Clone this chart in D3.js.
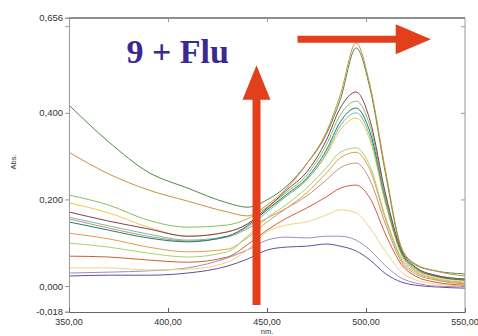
<!DOCTYPE html>
<html>
<head>
<meta charset="utf-8" />
<title>9 + Flu</title>
<script src="https://cdn.jsdelivr.net/npm/d3@7"></script>
<style>
  body { margin: 0; background: #fff; }
  svg text { font-family: "Liberation Sans", Arial, sans-serif; fill: #333; }
  svg text.title { font-family: "Liberation Serif", "Times New Roman", serif; font-weight: bold; fill: #3b2890; }
  .spec { fill: none; stroke-width: 1px; }
</style>
</head>
<body>
<div id="chart"></div>
<script>
// wavelengths (nm) where the spectra are sampled
var wavelengths = [350, 370, 390, 410, 430, 440, 450, 460, 470, 480, 487, 495, 502, 510, 518, 525, 535, 550];

// absorbance of each spectrum
var sA = [0.309, 0.259, 0.222, 0.196, 0.171, 0.162, 0.187, 0.226, 0.282, 0.356, 0.441, 0.561, 0.464, 0.263, 0.088, 0.051, 0.035, 0.023];
var sB = [0.418, 0.333, 0.263, 0.226, 0.192, 0.182, 0.199, 0.231, 0.282, 0.351, 0.430, 0.550, 0.457, 0.256, 0.085, 0.049, 0.035, 0.028];
var sC = [0.171, 0.150, 0.132, 0.115, 0.125, 0.143, 0.180, 0.222, 0.263, 0.337, 0.411, 0.448, 0.383, 0.210, 0.081, 0.044, 0.025, 0.016];
var sD = [0.210, 0.187, 0.152, 0.136, 0.141, 0.155, 0.182, 0.217, 0.256, 0.326, 0.395, 0.427, 0.370, 0.203, 0.079, 0.042, 0.025, 0.016];
var sE = [0.148, 0.129, 0.111, 0.102, 0.115, 0.139, 0.176, 0.212, 0.249, 0.314, 0.379, 0.411, 0.356, 0.199, 0.076, 0.042, 0.023, 0.014];
var sF = [0.159, 0.139, 0.120, 0.106, 0.115, 0.136, 0.171, 0.208, 0.245, 0.307, 0.370, 0.400, 0.346, 0.192, 0.074, 0.039, 0.023, 0.014];
var sG = [0.192, 0.169, 0.136, 0.115, 0.125, 0.143, 0.176, 0.208, 0.245, 0.303, 0.360, 0.388, 0.337, 0.187, 0.072, 0.037, 0.021, 0.012];
var sH = [0.099, 0.090, 0.076, 0.067, 0.079, 0.115, 0.157, 0.189, 0.226, 0.273, 0.309, 0.319, 0.277, 0.157, 0.065, 0.035, 0.018, 0.009];
var sI = [0.122, 0.109, 0.090, 0.079, 0.085, 0.111, 0.148, 0.180, 0.215, 0.261, 0.296, 0.309, 0.268, 0.152, 0.060, 0.032, 0.016, 0.007];
var sJ = [0.155, 0.134, 0.115, 0.104, 0.113, 0.132, 0.157, 0.180, 0.208, 0.245, 0.273, 0.284, 0.245, 0.141, 0.055, 0.028, 0.014, 0.005];
var sK = [0.069, 0.067, 0.060, 0.055, 0.067, 0.095, 0.129, 0.157, 0.180, 0.206, 0.226, 0.233, 0.203, 0.118, 0.049, 0.023, 0.009, 0.002];
var sL = [0.042, 0.042, 0.037, 0.039, 0.055, 0.083, 0.125, 0.141, 0.148, 0.164, 0.176, 0.169, 0.134, 0.079, 0.032, 0.014, 0.005, 0.000];
var sM = [0.030, 0.032, 0.035, 0.042, 0.065, 0.083, 0.106, 0.113, 0.111, 0.115, 0.115, 0.106, 0.083, 0.046, 0.018, 0.007, 0.000, -0.002];
var sN = [0.023, 0.025, 0.025, 0.030, 0.046, 0.062, 0.083, 0.090, 0.092, 0.097, 0.092, 0.081, 0.060, 0.028, 0.009, 0.002, -0.002, -0.005];

var spectra = [sN, sM, sL, sK, sJ, sI, sH, sG, sF, sE, sD, sC, sB, sA];
var spectraColors = ["#6a4aa0", "#9c8cc0", "#f0d478", "#d65a34", "#c99080", "#e89a4c", "#a4d46c",
                     "#f2c84a", "#6cc0a8", "#1f7a6a", "#82c25a", "#8b3a55", "#4f8a4a", "#c8923a"];

// axes
var xDomain = [350, 550];
var xTickValues = [350, 400, 450, 500, 550];
var xTickLabels = ["350,00", "400,00", "450,00", "500,00", "550,00"];
var yDomain = [-0.060, 0.619];
var yTickValues = [0, 0.2, 0.4, 0.6];
var yTickLabels = ["0,000", "0,200", "0,400", ""];
var yEndLabels = ["-0,018", "0,656"];

// annotations (data units)
var titleText = "9 + Flu";
var titlePos = [379, 0.515];
var upArrow = { x: 444.7, y0: -0.044, y1: 0.510, head: 0.430 };
var rightArrow = { y: 0.570, x0: 465.4, x1: 532.8, head: 515 };

var width = 478, height = 336;
var mLeft = 69, mRight = 465, mTop = 18, mBottom = 312;

var svg = d3.select("#chart").append("svg")
    .attr("width", width)
    .attr("height", height);

var x = d3.scaleLinear().domain(xDomain).range([mLeft, mRight]);
var y = d3.scaleLinear().domain(yDomain).range([mBottom, mTop]);

// spectra
var line = d3.line()
    .x(function(d, i) { return x(wavelengths[i]); })
    .y(function(d) { return y(d); })
    .curve(d3.curveMonotoneX);

svg.append("g").selectAll("path")
    .data(spectra)
    .enter()
    .append("path")
    .attr("class", "spec")
    .attr("stroke", function(d, i) { return spectraColors[i]; })
    .attr("d", line);

// frame: black top, grey right
svg.append("line").attr("x1", mLeft).attr("x2", mRight).attr("y1", mTop).attr("y2", mTop)
    .attr("stroke", "#222").attr("stroke-width", 1.2);
svg.append("line").attr("x1", mRight).attr("x2", mRight).attr("y1", mTop).attr("y2", mBottom)
    .attr("stroke", "#999");

// left axis
var yAxis = d3.axisLeft(y)
    .tickValues(yTickValues)
    .tickSize(4)
    .tickPadding(2)
    .tickFormat(function(d, i) { return yTickLabels[i]; });
var gy = svg.append("g").attr("transform", "translate(" + mLeft + ",0)").call(yAxis);
gy.select(".domain").attr("stroke", "#999");
gy.selectAll(".tick line").attr("stroke", "#999");
gy.selectAll("text").attr("font-size", "9.5px").attr("fill", "#333");

// end labels of y axis
svg.append("g").selectAll("text")
    .data(yEndLabels)
    .enter()
    .append("text")
    .attr("x", mLeft - 6)
    .attr("y", function(d, i) { return y(yDomain[i]); })
    .attr("dy", "0.32em")
    .attr("text-anchor", "end")
    .attr("font-size", "9.5px")
    .text(function(d) { return d; });
svg.append("g").selectAll("line")
    .data(yDomain)
    .enter()
    .append("line")
    .attr("x1", mLeft - 4).attr("x2", mLeft)
    .attr("y1", function(d) { return y(d); })
    .attr("y2", function(d) { return y(d); })
    .attr("stroke", "#999");

// right inner ticks
var gyr = svg.append("g").attr("transform", "translate(" + mRight + ",0)")
    .call(d3.axisLeft(y).tickValues(yTickValues).tickSize(4).tickFormat(""));
gyr.select(".domain").remove();
gyr.selectAll(".tick line").attr("stroke", "#999");

// bottom axis: inner ticks, labels below
var xAxis = d3.axisTop(x).tickValues(xTickValues.slice(1, -1)).tickSize(4).tickFormat("");
var gx = svg.append("g").attr("transform", "translate(0," + mBottom + ")").call(xAxis);
gx.select(".domain").attr("stroke", "#666");
gx.selectAll(".tick line").attr("stroke", "#555");

svg.append("g").selectAll("text")
    .data(xTickValues)
    .enter()
    .append("text")
    .attr("x", function(d) { return x(d); })
    .attr("y", mBottom + 13)
    .attr("text-anchor", "middle")
    .attr("font-size", "9px")
    .text(function(d, i) { return xTickLabels[i]; });

// top inner ticks
var gxt = svg.append("g").attr("transform", "translate(0," + mTop + ")")
    .call(d3.axisBottom(x).tickValues(xTickValues.slice(1, -1)).tickSize(4).tickFormat(""));
gxt.select(".domain").remove();
gxt.selectAll(".tick line").attr("stroke", "#999");

// axis titles
svg.append("text")
    .attr("x", x(450))
    .attr("y", mBottom + 22)
    .attr("text-anchor", "middle")
    .attr("font-size", "7.5px")
    .text("nm.");
svg.append("text")
    .attr("transform", "translate(16," + ((mTop + mBottom) / 2 - 3) + ") rotate(-90)")
    .attr("text-anchor", "middle")
    .attr("font-size", "7.5px")
    .text("Abs.");

// title
svg.append("text")
    .attr("class", "title")
    .attr("x", x(titlePos[0]))
    .attr("y", y(titlePos[1]))
    .attr("font-size", "34px")
    .text(titleText);

// red arrows
var red = "#e2401c";
var ux = x(upArrow.x);
svg.append("path")
    .attr("fill", red)
    .attr("d",
      "M" + (ux - 4) + "," + y(upArrow.y0) +
      "L" + (ux - 4) + "," + y(upArrow.head) +
      "L" + (ux - 14) + "," + y(upArrow.head) +
      "L" + ux + "," + y(upArrow.y1) +
      "L" + (ux + 14) + "," + y(upArrow.head) +
      "L" + (ux + 4) + "," + y(upArrow.head) +
      "L" + (ux + 4) + "," + y(upArrow.y0) + "Z");

var ry = y(rightArrow.y);
svg.append("path")
    .attr("fill", red)
    .attr("d",
      "M" + x(rightArrow.x0) + "," + (ry - 3.5) +
      "L" + x(rightArrow.head) + "," + (ry - 3.5) +
      "L" + x(rightArrow.head) + "," + (ry - 15) +
      "L" + x(rightArrow.x1) + "," + ry +
      "L" + x(rightArrow.head) + "," + (ry + 15) +
      "L" + x(rightArrow.head) + "," + (ry + 3.5) +
      "L" + x(rightArrow.x0) + "," + (ry + 3.5) + "Z");
</script>
</body>
</html>
